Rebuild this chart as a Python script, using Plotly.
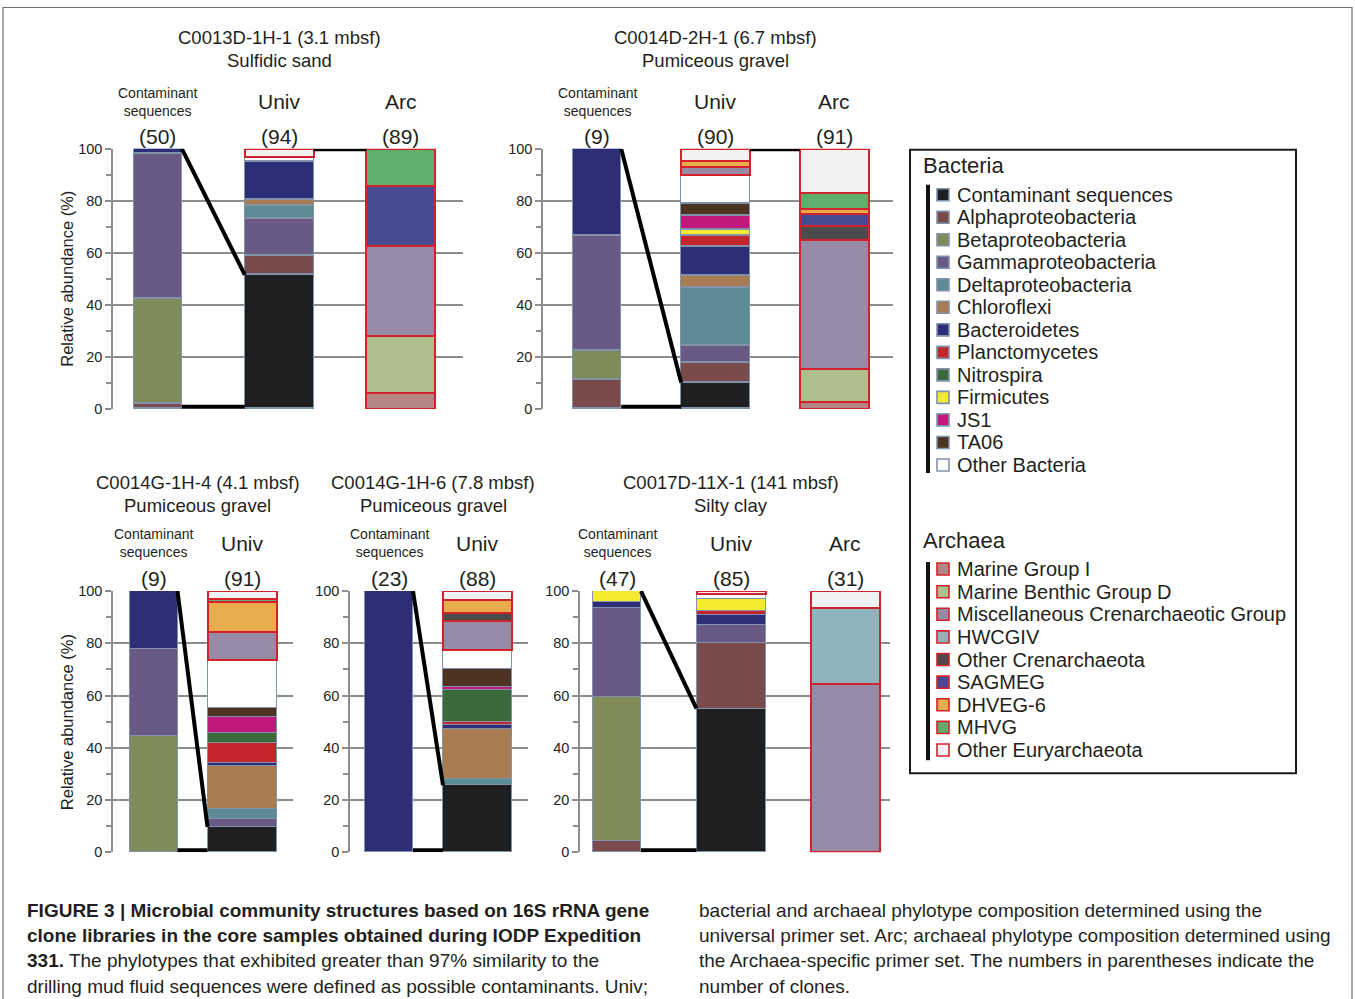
import plotly.graph_objects as go

W, H = 1355, 999
# the photographed page is compressed slightly in height; compensate so that
# reference pixel rows land where they belong
Y_OFF, Y_SCALE = 8.5, 0.983
FONT = "Liberation Sans, Arial, Helvetica, sans-serif"
TXT = "#231f20"

# ---------------- categories ----------------
BACTERIA = ["Contaminant sequences", "Alphaproteobacteria", "Betaproteobacteria",
            "Gammaproteobacteria", "Deltaproteobacteria", "Chloroflexi", "Bacteroidetes",
            "Planctomycetes", "Nitrospira", "Firmicutes", "JS1", "TA06", "Other Bacteria"]
ARCHAEA = ["Marine Group I", "Marine Benthic Group D", "Miscellaneous Crenarchaeotic Group",
           "HWCGIV", "Other Crenarchaeota", "SAGMEG", "DHVEG-6", "MHVG", "Other Euryarchaeota"]

COLORS = {
    "Contaminant sequences": "#1f1f21", "Alphaproteobacteria": "#7b4b4b",
    "Betaproteobacteria": "#7f8b59", "Gammaproteobacteria": "#685a84",
    "Deltaproteobacteria": "#5c8b93", "Chloroflexi": "#a97b50",
    "Bacteroidetes": "#2c2f78", "Planctomycetes": "#c4262d",
    "Nitrospira": "#3b6a3d", "Firmicutes": "#f6ea30", "JS1": "#c0187b",
    "TA06": "#4d3322", "Other Bacteria": "#ffffff",
    "Marine Group I": "#b58585", "Marine Benthic Group D": "#adbf8d",
    "Miscellaneous Crenarchaeotic Group": "#978aa6", "HWCGIV": "#8eb5bd",
    "Other Crenarchaeota": "#4b4b4b", "SAGMEG": "#474c92", "DHVEG-6": "#e9ab4c",
    "MHVG": "#5fae6c", "Other Euryarchaeota": "#f2f2f2",
}

# ---------------- data (relative abundance, %) ----------------
p1_contam = {"Alphaproteobacteria": 2.0, "Betaproteobacteria": 40.5,
             "Gammaproteobacteria": 55.5, "Bacteroidetes": 2.0}
p1_univ = {"Contaminant sequences": 51.5, "Alphaproteobacteria": 7.5,
           "Gammaproteobacteria": 14.0, "Deltaproteobacteria": 5.0, "Chloroflexi": 2.5,
           "Bacteroidetes": 14.5, "Other Bacteria": 2.0, "Other Euryarchaeota": 3.0}
p1_arc = {"Marine Group I": 6.3, "Marine Benthic Group D": 21.9,
          "Miscellaneous Crenarchaeotic Group": 34.5, "SAGMEG": 23.1, "MHVG": 14.2}

p2_contam = {"Alphaproteobacteria": 11.1, "Betaproteobacteria": 11.1,
             "Gammaproteobacteria": 44.5, "Bacteroidetes": 33.3}
p2_univ = {"Contaminant sequences": 10.0, "Alphaproteobacteria": 7.8,
           "Gammaproteobacteria": 6.7, "Deltaproteobacteria": 22.2, "Chloroflexi": 4.4,
           "Bacteroidetes": 11.1, "Planctomycetes": 4.4, "Firmicutes": 2.2, "JS1": 5.6,
           "TA06": 4.4, "Other Bacteria": 11.1, "Miscellaneous Crenarchaeotic Group": 3.3,
           "DHVEG-6": 2.2, "Other Euryarchaeota": 4.6}
p2_arc = {"Marine Group I": 2.8, "Marine Benthic Group D": 12.5,
          "Miscellaneous Crenarchaeotic Group": 49.7, "Other Crenarchaeota": 5.5,
          "SAGMEG": 4.4, "DHVEG-6": 2.0, "MHVG": 6.3, "Other Euryarchaeota": 16.8}

p3_contam = {"Betaproteobacteria": 44.4, "Gammaproteobacteria": 33.4, "Bacteroidetes": 22.2}
p3_univ = {"Contaminant sequences": 9.7, "Gammaproteobacteria": 3.2,
           "Deltaproteobacteria": 3.5, "Chloroflexi": 16.6, "Bacteroidetes": 1.2,
           "Planctomycetes": 7.8, "Nitrospira": 3.7, "JS1": 6.1, "TA06": 3.6,
           "Other Bacteria": 18.2, "Miscellaneous Crenarchaeotic Group": 10.8,
           "DHVEG-6": 11.3, "MHVG": 1.3, "Other Euryarchaeota": 3.0}

p4_contam = {"Bacteroidetes": 100.0}
p4_univ = {"Contaminant sequences": 25.7, "Deltaproteobacteria": 2.5, "Chloroflexi": 18.8,
           "Bacteroidetes": 1.7, "Planctomycetes": 1.1, "Nitrospira": 12.3, "JS1": 1.1,
           "TA06": 6.8, "Other Bacteria": 7.3, "Miscellaneous Crenarchaeotic Group": 11.2,
           "Other Crenarchaeota": 3.2, "DHVEG-6": 4.8, "Other Euryarchaeota": 3.5}

p5_contam = {"Alphaproteobacteria": 4.3, "Betaproteobacteria": 55.3,
             "Gammaproteobacteria": 34.0, "Bacteroidetes": 2.1, "Firmicutes": 4.3}
p5_univ = {"Contaminant sequences": 55.0, "Alphaproteobacteria": 25.2,
           "Gammaproteobacteria": 6.8, "Bacteroidetes": 3.8, "Planctomycetes": 1.7,
           "Firmicutes": 4.3, "Other Bacteria": 2.0, "Other Euryarchaeota": 1.2}
p5_arc = {"Miscellaneous Crenarchaeotic Group": 64.5, "HWCGIV": 29.0,
          "Other Euryarchaeota": 6.5}

bar_names = ["Contaminant sequences", "Univ", "Arc"]
panel_bars = [[p1_contam, p1_univ, p1_arc], [p2_contam, p2_univ, p2_arc],
              [p3_contam, p3_univ], [p4_contam, p4_univ], [p5_contam, p5_univ, p5_arc]]
clone_counts = [[50, 94, 89], [9, 90, 91], [9, 91], [23, 88], [47, 85, 31]]
sample_ids = ["C0013D-1H-1 (3.1 mbsf)", "C0014D-2H-1 (6.7 mbsf)", "C0014G-1H-4 (4.1 mbsf)",
              "C0014G-1H-6 (7.8 mbsf)", "C0017D-11X-1 (141 mbsf)"]
lithologies = ["Sulfidic sand", "Pumiceous gravel", "Pumiceous gravel",
               "Pumiceous gravel", "Silty clay"]
y_ticks = [0, 20, 40, 60, 80, 100]

# ---------------- layout geometry (reference pixels) ----------------
# axis_left, axis_right, y100_px, y0_px, first bar centre px, bar step px
GEOM = [(113, 463, 149, 409, 157.8, 121.5),
        (543, 893, 149, 409, 597.2, 118.5),
        (113, 293, 591, 852, 153.5, 88.5),
        (350, 528, 591, 852, 389.0, 88.5),
        (580, 890, 591, 852, 617.0, 114.0)]
BAR_W_PX = [48, 69, 69]
ROW_TEXT_Y = {149: dict(t1=38, t2=61, lab=102, cnt=137),
              591: dict(t1=483, t2=506, lab=543, cnt=578)}
BACT_LINE = "#8292aa"
ARCH_LINE = "#d3222b"
GRID = "#8d8d8d"


def px(x):
    return x / W


def py(y):
    return 1 - ((y - Y_OFF) / Y_SCALE) / H


fig = go.Figure()
annotations = []
shapes = []
layout_axes = {}

for i, bars in enumerate(panel_bars):
    k = i + 1
    xa, ya = ("x" if k == 1 else f"x{k}"), ("y" if k == 1 else f"y{k}")
    left, right, ytop, ybot, c0, step = GEOM[i]
    n = len(bars)
    names = bar_names[:n]
    widths = [BAR_W_PX[j] / step for j in range(n)]

    for cat in BACTERIA + ARCHAEA:
        vals = [b.get(cat) for b in bars]
        if all(v is None for v in vals):
            continue
        is_arch = cat in ARCHAEA
        fig.add_trace(go.Bar(
            x=names, y=vals, width=widths, name=cat,
            marker=dict(color=COLORS[cat],
                        line=dict(color=ARCH_LINE if is_arch else BACT_LINE,
                                  width=2 if is_arch else 1.4)),
            xaxis=xa, yaxis=ya, showlegend=False,
            hovertemplate=cat + ": %{y:.1f}%<extra></extra>"))

    lo = (left - c0) / step
    hi = (right - c0) / step
    layout_axes["xaxis" if k == 1 else f"xaxis{k}"] = dict(
        domain=[px(left), px(right)], range=[lo, hi], type="category",
        categoryorder="array", categoryarray=names, anchor=ya,
        showticklabels=False, showgrid=False, zeroline=False, showline=False, ticks="",
        fixedrange=True)
    layout_axes["yaxis" if k == 1 else f"yaxis{k}"] = dict(
        domain=[py(ybot), py(ytop)], range=[0, 100], anchor=xa,
        tickvals=y_ticks, ticks="outside", ticklen=6, tickwidth=1.5, tickcolor=GRID,
        minor=dict(dtick=10, tick0=0, ticks="outside", ticklen=5, tickwidth=1.5,
                   tickcolor=GRID, showgrid=False),
        showgrid=True, gridcolor=GRID, gridwidth=2, zeroline=False,
        showline=True, linecolor=GRID, linewidth=1.5,
        tickfont=dict(size=14.5, color=TXT, family=FONT), fixedrange=True)

    # connector lines from contaminant bar to the contaminant fraction of Univ
    univ_contam = bars[1].get("Contaminant sequences", 0)
    xr = 0 + widths[0] / 2
    xl = 1 - widths[1] / 2
    shapes.append(dict(type="line", xref=xa, yref=ya, x0=xr, y0=100, x1=xl,
                       y1=univ_contam, line=dict(color="black", width=4)))
    shapes.append(dict(type="line", xref=xa, yref=ya, x0=xr, y0=0.8, x1=xl, y1=0.8,
                       line=dict(color="black", width=4)))
    if n == 3 and i < 2:
        shapes.append(dict(type="line", xref=xa, yref=ya, x0=1 + widths[1] / 2, y0=99.6,
                           x1=2 - widths[2] / 2, y1=99.6, line=dict(color="black", width=3)))

    # header texts
    ty = ROW_TEXT_Y[ytop]
    mid = 0.5 if n == 2 else 1
    for txt, yy in ((sample_ids[i], ty["t1"]), (lithologies[i], ty["t2"])):
        annotations.append(dict(text=txt, xref=xa, yref="paper", x=mid, y=py(yy),
                                xanchor="center", yanchor="middle", showarrow=False,
                                font=dict(size=18.5, color=TXT, family=FONT)))
    for j, nm in enumerate(names):
        if j == 0:
            annotations.append(dict(text="Contaminant<br>sequences", xref=xa, yref="paper",
                                    x=nm, y=py(ty["lab"]), xanchor="center", yanchor="middle",
                                    showarrow=False,
                                    font=dict(size=14, color=TXT, family=FONT)))
        else:
            annotations.append(dict(text=nm, xref=xa, yref="paper", x=nm, y=py(ty["lab"]),
                                    xanchor="center", yanchor="middle", showarrow=False,
                                    font=dict(size=21, color=TXT, family=FONT)))
        annotations.append(dict(text=f"({clone_counts[i][j]})", xref=xa, yref="paper", x=nm,
                                y=py(ty["cnt"]), xanchor="center", yanchor="middle",
                                showarrow=False, font=dict(size=21, color=TXT, family=FONT)))

# y-axis titles
for yy in (279, 722):
    annotations.append(dict(text="Relative abundance (%)", xref="paper", yref="paper",
                            x=px(67), y=py(yy), textangle=-90, showarrow=False,
                            xanchor="center", yanchor="middle",
                            font=dict(size=16.5, color=TXT, family=FONT)))

# ---------------- legend (drawn) ----------------
shapes.append(dict(type="rect", xref="paper", yref="paper", x0=px(910), x1=px(1296),
                   y0=py(773), y1=py(150), line=dict(color="#1a1a1a", width=2),
                   fillcolor="rgba(0,0,0,0)"))
legend_groups = [("Bacteria", BACTERIA, 166, 195, 22.5, 185, 473, BACT_LINE),
                 ("Archaea", ARCHAEA, 540, 569, 22.6, 562, 760, ARCH_LINE)]
for title, cats, ty, y0, dy, bt, bb, lc in legend_groups:
    annotations.append(dict(text=title, xref="paper", yref="paper", x=px(921), y=py(ty),
                            xanchor="left", yanchor="middle", showarrow=False,
                            font=dict(size=22, color=TXT, family=FONT)))
    shapes.append(dict(type="rect", xref="paper", yref="paper", x0=px(926), x1=px(930),
                       y0=py(bb), y1=py(bt), fillcolor="#111111", line=dict(width=0)))
    for r, cat in enumerate(cats):
        yc = y0 + r * dy
        shapes.append(dict(type="rect", xref="paper", yref="paper", x0=px(937), x1=px(949),
                           y0=py(yc + 6), y1=py(yc - 6), fillcolor=COLORS[cat],
                           line=dict(color=lc, width=1.6)))
        annotations.append(dict(text=cat, xref="paper", yref="paper", x=px(955), y=py(yc),
                                xanchor="left", yanchor="middle", showarrow=False,
                                font=dict(size=20, color=TXT, family=FONT)))

# ---------------- caption ----------------
cap_left = ["<b>FIGURE 3 | Microbial community structures based on 16S rRNA gene</b>",
            "<b>clone libraries in the core samples obtained during IODP Expedition</b>",
            "<b>331.</b> The phylotypes that exhibited greater than 97% similarity to the",
            "drilling mud fluid sequences were defined as possible contaminants. Univ;"]
cap_right = ["bacterial and archaeal phylotype composition determined using the",
             "universal primer set. Arc; archaeal phylotype composition determined using",
             "the Archaea-specific primer set. The numbers in parentheses indicate the",
             "number of clones."]
for col_x, lines in ((25, cap_left), (697, cap_right)):
    for r, line in enumerate(lines):
        annotations.append(dict(text=line, xref="paper", yref="paper", x=px(col_x),
                                y=py(910 + r * 25.2), xanchor="left", yanchor="middle",
                                showarrow=False,
                                font=dict(size=19, color=TXT, family=FONT)))

# outer frame
shapes.append(dict(type="rect", xref="paper", yref="paper", x0=px(3), x1=px(1352),
                   y0=py(1003), y1=py(8), line=dict(color="#6f6f6f", width=1.2),
                   fillcolor="rgba(0,0,0,0)"))

fig.update_layout(
    width=W, height=H, autosize=False, margin=dict(l=0, r=0, t=0, b=0),
    paper_bgcolor="white", plot_bgcolor="white", barmode="stack", bargap=0,
    font=dict(family=FONT, color=TXT), showlegend=False,
    annotations=annotations, shapes=shapes, **layout_axes)

fig.write_html("out.html", config={"displayModeBar": False},
               post_script="document.body.style.margin='0';document.body.style.overflow='hidden';")
